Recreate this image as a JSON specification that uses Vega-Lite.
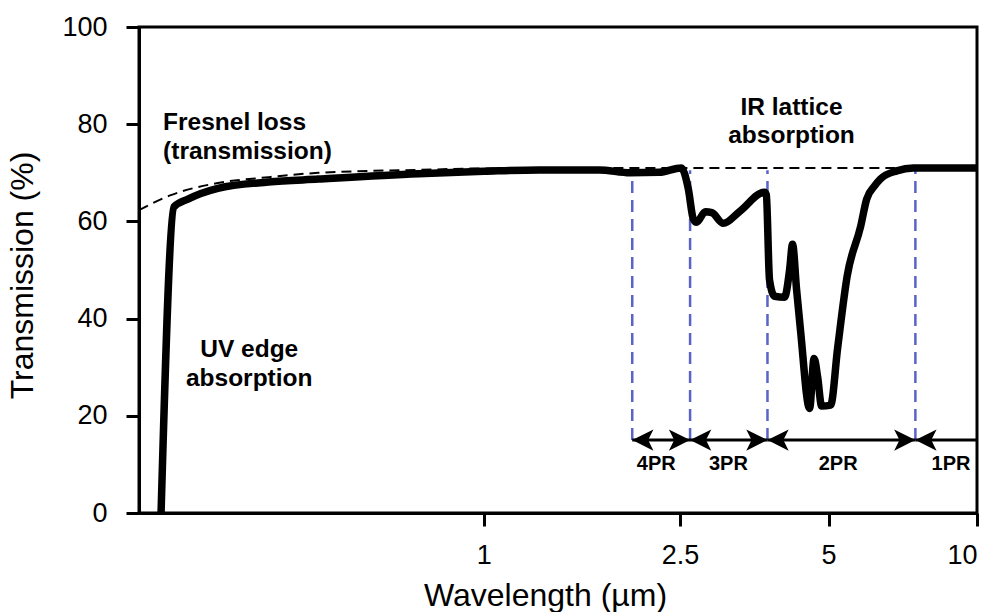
{
  "$schema": "https://vega.github.io/schema/vega-lite/v6.json",
  "width": 838,
  "height": 486,
  "autosize": {"type": "none"},
  "padding": {"left": 139, "top": 27, "right": 19, "bottom": 99},
  "background": "white",
  "config": {
    "view": {"stroke": "black", "strokeWidth": 3},
    "font": "Liberation Sans",
    "axis": {
      "grid": false,
      "domainColor": "black",
      "domainWidth": 3,
      "tickColor": "black",
      "tickWidth": 3,
      "tickSize": 13,
      "labelFont": "Liberation Sans",
      "labelFontSize": 27,
      "labelColor": "black",
      "titleFont": "Liberation Sans",
      "titleFontSize": 32,
      "titleFontWeight": "normal",
      "titleColor": "black"
    }
  },
  "datasets": {
    "spectrum": [
      {"wl": 0.2217, "t": 0},
      {"wl": 0.2355, "t": 63.0},
      {"wl": 0.2514, "t": 64.6},
      {"wl": 0.289, "t": 66.8},
      {"wl": 0.366, "t": 68.1},
      {"wl": 0.462, "t": 68.7},
      {"wl": 0.738, "t": 69.8},
      {"wl": 1.0, "t": 70.3},
      {"wl": 1.294, "t": 70.6},
      {"wl": 1.713, "t": 70.6},
      {"wl": 1.98, "t": 70.0},
      {"wl": 2.268, "t": 70.1},
      {"wl": 2.515, "t": 71.0},
      {"wl": 2.598, "t": 66.7},
      {"wl": 2.66, "t": 60.5},
      {"wl": 2.7, "t": 59.8},
      {"wl": 2.814, "t": 62.0},
      {"wl": 2.9, "t": 61.8},
      {"wl": 3.06, "t": 59.6},
      {"wl": 3.298, "t": 62.0},
      {"wl": 3.709, "t": 66.0},
      {"wl": 3.74, "t": 65.5},
      {"wl": 3.796, "t": 48.0},
      {"wl": 3.886, "t": 44.6},
      {"wl": 4.072, "t": 44.4},
      {"wl": 4.169, "t": 50.0},
      {"wl": 4.227, "t": 55.3},
      {"wl": 4.307, "t": 46.0},
      {"wl": 4.388, "t": 37.5},
      {"wl": 4.577, "t": 21.5},
      {"wl": 4.674, "t": 31.8},
      {"wl": 4.752, "t": 28.0},
      {"wl": 4.842, "t": 22.0},
      {"wl": 5.05, "t": 22.2},
      {"wl": 5.218, "t": 34.0},
      {"wl": 5.456, "t": 48.8},
      {"wl": 5.81, "t": 59.0},
      {"wl": 5.975, "t": 64.6},
      {"wl": 6.2, "t": 67.3},
      {"wl": 6.367, "t": 68.7},
      {"wl": 6.877, "t": 70.4},
      {"wl": 7.43, "t": 71.0},
      {"wl": 10.0, "t": 71.0}
    ],
    "fresnel": [
      {"wl": 0.2, "t": 62.3},
      {"wl": 0.232, "t": 65.4},
      {"wl": 0.289, "t": 67.9},
      {"wl": 0.366, "t": 69.1},
      {"wl": 0.462, "t": 70.0},
      {"wl": 0.738, "t": 70.6},
      {"wl": 1.0, "t": 70.9},
      {"wl": 2.0, "t": 71.0},
      {"wl": 7.43, "t": 71.0}
    ],
    "bounds": [
      {"wl": 2.0, "lo": 15, "hi": 70.5},
      {"wl": 2.62, "lo": 15, "hi": 70.5},
      {"wl": 3.76, "lo": 15, "hi": 70.5},
      {"wl": 7.5, "lo": 15, "hi": 70.5}
    ],
    "bands": [
      {"from": 2.0, "to": 2.62, "mid": 2.237, "level": 15, "labelAt": 10, "label": "4PR"},
      {"from": 2.62, "to": 3.76, "mid": 3.133, "level": 15, "labelAt": 10, "label": "3PR"},
      {"from": 3.76, "to": 7.5, "mid": 5.23, "level": 15, "labelAt": 10, "label": "2PR"},
      {"from": 7.5, "to": 10.0, "mid": 8.86, "level": 15, "labelAt": 10, "label": "1PR"}
    ],
    "heads": [
      {"wl": 2.0, "level": 15, "dir": "left"},
      {"wl": 2.62, "level": 15, "dir": "right"},
      {"wl": 2.62, "level": 15, "dir": "left"},
      {"wl": 3.76, "level": 15, "dir": "right"},
      {"wl": 3.76, "level": 15, "dir": "left"},
      {"wl": 7.5, "level": 15, "dir": "right"},
      {"wl": 7.5, "level": 15, "dir": "left"}
    ],
    "notes": [
      {"wl": 0.2238, "t": 80.2, "side": "left", "label": "Fresnel loss"},
      {"wl": 0.2238, "t": 74.3, "side": "left", "label": "(transmission)"},
      {"wl": 0.3346, "t": 33.5, "side": "center", "label": "UV edge"},
      {"wl": 0.3346, "t": 27.6, "side": "center", "label": "absorption"},
      {"wl": 4.207, "t": 83.3, "side": "center", "label": "IR lattice"},
      {"wl": 4.207, "t": 77.6, "side": "center", "label": "absorption"}
    ]
  },
  "encoding": {
    "x": {
      "field": "wl",
      "type": "quantitative",
      "scale": {"type": "log", "domain": [0.2, 10], "nice": false},
      "axis": {
        "values": [1, 2.5, 5, 10],
        "format": "~g",
        "title": "Wavelength (µm)",
        "labelPadding": 16,
        "titleX": 406,
        "titleY": 82,
        "titleAlign": "center",
        "titleBaseline": "middle"
      }
    },
    "y": {
      "field": "t",
      "type": "quantitative",
      "scale": {"domain": [0, 100], "nice": false},
      "axis": {
        "values": [0, 20, 40, 60, 80, 100],
        "title": "Transmission (%)",
        "labelPadding": 19,
        "titleX": -117,
        "titleY": 248,
        "titleAngle": -90,
        "titleAlign": "center",
        "titleBaseline": "middle"
      }
    }
  },
  "layer": [
    {
      "data": {"name": "bounds"},
      "mark": {"type": "rule", "color": "#5a64c8", "strokeWidth": 2.5, "strokeDash": [12, 7]},
      "encoding": {
        "x": {"field": "wl", "type": "quantitative"},
        "y": {"field": "lo", "type": "quantitative"},
        "y2": {"field": "hi"}
      }
    },
    {
      "data": {"name": "bands"},
      "mark": {"type": "rule", "color": "black", "strokeWidth": 3},
      "encoding": {
        "x": {"field": "from", "type": "quantitative"},
        "x2": {"field": "to"},
        "y": {"field": "level", "type": "quantitative"}
      }
    },
    {
      "data": {"name": "heads"},
      "mark": {"type": "point", "filled": true, "color": "black", "opacity": 1, "size": 1800, "strokeWidth": 0},
      "encoding": {
        "x": {"field": "wl", "type": "quantitative"},
        "y": {"field": "level", "type": "quantitative"},
        "shape": {
          "field": "dir",
          "type": "nominal",
          "scale": {
            "domain": ["left", "right"],
            "range": ["M0,0L1,-0.5L0.75,0L1,0.5Z", "M0,0L-1,-0.5L-0.75,0L-1,0.5Z"]
          },
          "legend": null
        }
      }
    },
    {
      "data": {"name": "bands"},
      "mark": {"type": "text", "font": "Liberation Sans", "fontWeight": "bold", "fontSize": 20, "color": "black", "align": "center", "baseline": "middle"},
      "encoding": {
        "x": {"field": "mid", "type": "quantitative"},
        "y": {"field": "labelAt", "type": "quantitative"},
        "text": {"field": "label", "type": "nominal"}
      }
    },
    {
      "data": {"name": "fresnel"},
      "mark": {"type": "line", "color": "black", "strokeWidth": 2, "strokeDash": [10, 6], "interpolate": "monotone"},
      "encoding": {}
    },
    {
      "data": {"name": "spectrum"},
      "mark": {"type": "line", "color": "black", "strokeWidth": 7.5, "interpolate": "monotone", "strokeJoin": "round", "strokeCap": "butt"},
      "encoding": {}
    },
    {
      "data": {"name": "notes"},
      "transform": [{"filter": "datum.side === 'left'"}],
      "mark": {"type": "text", "font": "Liberation Sans", "fontWeight": "bold", "fontSize": 24.5, "color": "black", "align": "left", "baseline": "middle"},
      "encoding": {"text": {"field": "label", "type": "nominal"}}
    },
    {
      "data": {"name": "notes"},
      "transform": [{"filter": "datum.side === 'center'"}],
      "mark": {"type": "text", "font": "Liberation Sans", "fontWeight": "bold", "fontSize": 24.5, "color": "black", "align": "center", "baseline": "middle"},
      "encoding": {"text": {"field": "label", "type": "nominal"}}
    }
  ]
}
